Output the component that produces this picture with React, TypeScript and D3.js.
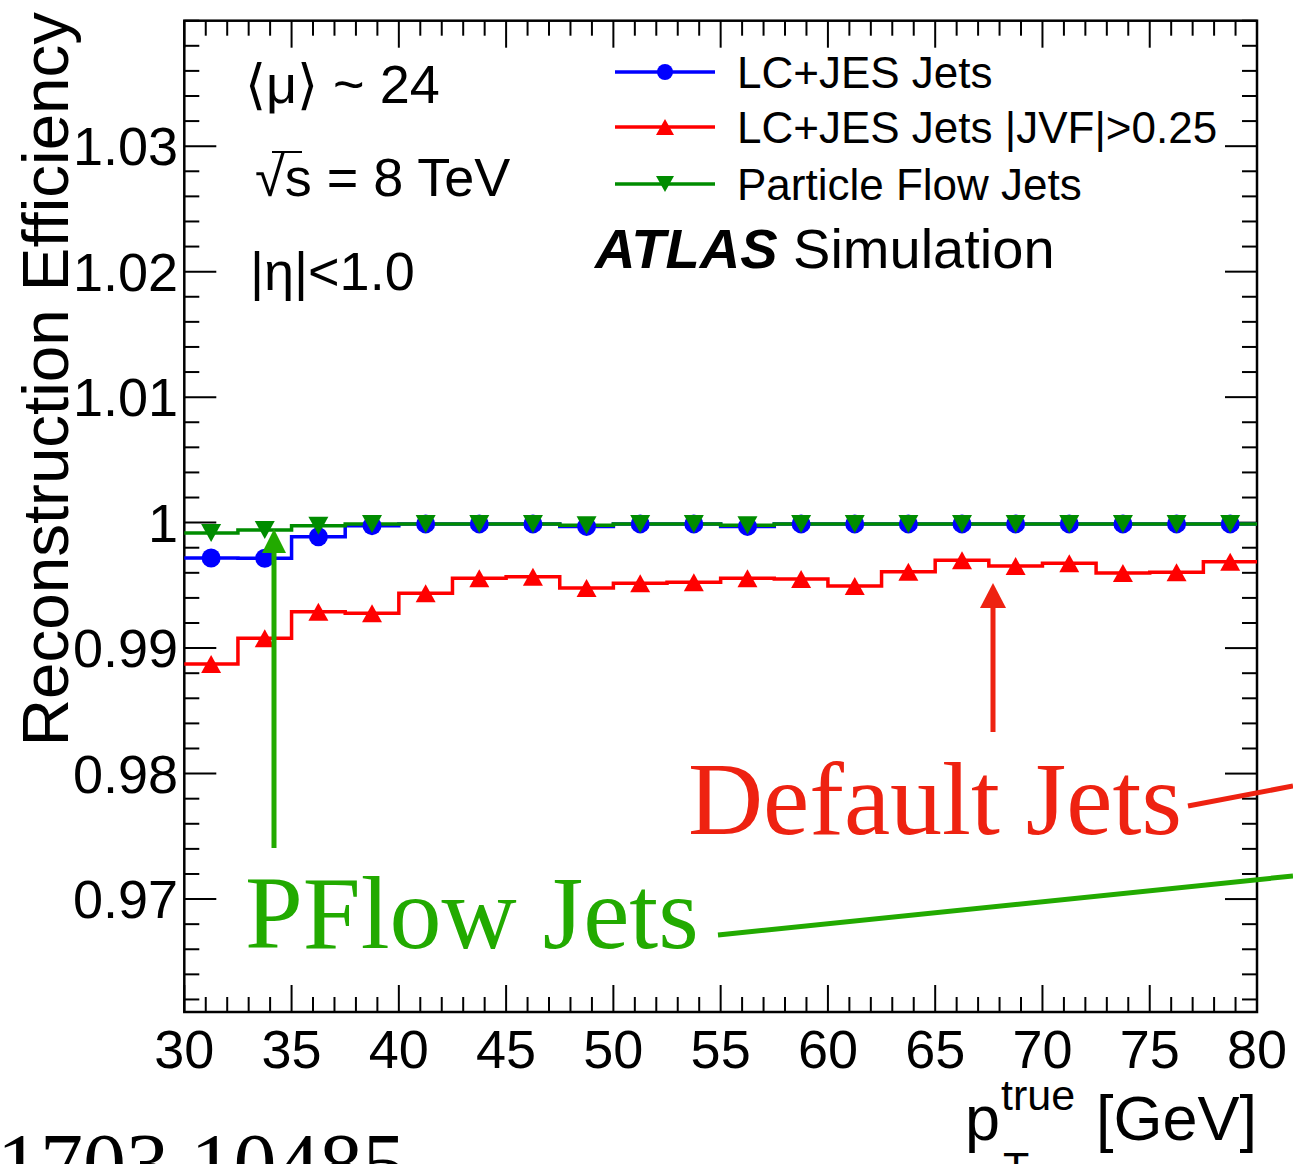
import React, { useEffect } from "react";
import * as d3 from "d3";

const binLow = [30, 32.5, 35, 37.5, 40, 42.5, 45, 47.5, 50, 52.5, 55, 57.5, 60, 62.5, 65, 67.5, 70, 72.5, 75, 77.5];
const binWidth = 2.5;
const lcJes = [0.99718, 0.99716, 0.99888, 0.99976, 0.9999, 0.9999, 0.9999, 0.9997, 0.9999, 0.9999, 0.9997, 0.9999, 0.9999, 0.9999, 0.9999, 0.9999, 0.9999, 0.9999, 0.9999, 0.9999];
const lcJesJvf = [0.98873, 0.99078, 0.9929, 0.99277, 0.99437, 0.99556, 0.99569, 0.99479, 0.99516, 0.99524, 0.99556, 0.99551, 0.99495, 0.99609, 0.997, 0.99654, 0.99676, 0.99599, 0.99604, 0.99689];
const pflow = [0.99918, 0.99942, 0.99976, 0.9999, 0.9999, 0.9999, 0.9999, 0.9998, 0.9999, 0.9999, 0.9998, 0.9999, 0.9999, 0.9999, 0.9999, 0.9999, 0.9999, 0.9999, 0.9999, 0.9999];

const xTicks = [30, 35, 40, 45, 50, 55, 60, 65, 70, 75, 80];
const yTicks = [0.97, 0.98, 0.99, 1.0, 1.01, 1.02, 1.03];
const yTickLabels = ["0.97", "0.98", "0.99", "1", "1.01", "1.02", "1.03"];

const legendLabels = ["LC+JES Jets", "LC+JES Jets |JVF|>0.25", "Particle Flow Jets"];

const W = 1293;
const H = 1164;
const L = 184.3;
const R = 1257;
const T = 20.7;
const B = 1012;

const SANS = "'Liberation Sans', Arial, Helvetica, sans-serif";
const SERIF = "'Liberation Serif', 'Times New Roman', serif";

const x = d3.scaleLinear().domain([30, 80]).range([L, R]);
const y = d3.scaleLinear().domain([0.961, 1.04]).range([B, T]);

function stepPath(vals: number[]) {
  const pts: [number, number][] = vals.map((v, i) => [binLow[i], v]);
  pts.push([binLow[binLow.length - 1] + binWidth, vals[vals.length - 1]]);
  return d3
    .line<[number, number]>()
    .x((d) => x(d[0]))
    .y((d) => y(d[1]))
    .curve(d3.curveStepAfter)(pts) as string;
}

function tri(cx: number, cy: number, s: number, up: boolean) {
  const h = s * 0.9;
  if (up) return `M${cx},${cy - h / 2}L${cx + s / 2},${cy + h / 2}L${cx - s / 2},${cy + h / 2}Z`;
  return `M${cx},${cy + h / 2}L${cx + s / 2},${cy - h / 2}L${cx - s / 2},${cy - h / 2}Z`;
}

const BLUE = "#0000ff";
const RED = "#ff0000";
const GREEN = "#008c00";
const ANN_RED = "#ee2211";
const ANN_GREEN = "#22aa00";

export default function App() {
  useEffect(() => {
    document.body.style.margin = "0";
  }, []);

  const centers = binLow.map((b) => b + binWidth / 2);

  const xMinor: number[] = d3.range(30, 81, 1);
  const yMinor: number[] = d3.range(0, 40).map((i) => +(0.962 + i * 0.002).toFixed(3)).filter((v) => v <= 1.04);

  return (
    <svg width={W} height={H} style={{ display: "block", background: "#fff" }} fontFamily={SANS}>
      <rect x={0} y={0} width={W} height={H} fill="#fff" />

      {/* ticks */}
      <g stroke="#000" strokeWidth={2}>
        {xMinor.map((v) => {
          const major = xTicks.includes(v);
          const len = major ? 27 : 15;
          return (
            <g key={"xt" + v}>
              <line x1={x(v)} x2={x(v)} y1={B} y2={B - len} />
              <line x1={x(v)} x2={x(v)} y1={T} y2={T + len} />
            </g>
          );
        })}
        {yMinor.map((v) => {
          const major = yTicks.some((t) => Math.abs(t - v) < 1e-6);
          const len = major ? 32 : 15;
          return (
            <g key={"yt" + v}>
              <line x1={L} x2={L + len} y1={y(v)} y2={y(v)} />
              <line x1={R} x2={R - len} y1={y(v)} y2={y(v)} />
            </g>
          );
        })}
      </g>
      <rect x={L} y={T} width={R - L} height={B - T} fill="none" stroke="#000" strokeWidth={2.5} />

      {/* tick labels */}
      <g fontSize={54} fill="#000">
        {xTicks.map((v) => (
          <text key={"xl" + v} x={x(v)} y={1068} textAnchor="middle">
            {v}
          </text>
        ))}
        {yTicks.map((v, i) => (
          <text key={"yl" + v} x={178} y={y(v) + 19} textAnchor="end">
            {yTickLabels[i]}
          </text>
        ))}
      </g>

      {/* axis titles */}
      <text transform="translate(68,12) rotate(-90)" textAnchor="end" fontSize={65.5} fill="#000">
        Reconstruction Efficiency
      </text>
      <text x={965} y={1140} fontSize={63} fill="#000">p</text>
      <text x={1001} y={1110} fontSize={43} fill="#000">true</text>
      <text x={1003} y={1182} fontSize={43} fill="#000">T</text>
      <text x={1257} y={1140} fontSize={63} textAnchor="end" fill="#000">[GeV]</text>

      {/* series lines */}
      <path d={stepPath(lcJes)} fill="none" stroke={BLUE} strokeWidth={3.5} />
      <path d={stepPath(lcJesJvf)} fill="none" stroke={RED} strokeWidth={3.5} />
      <path d={stepPath(pflow)} fill="none" stroke={GREEN} strokeWidth={3.5} />

      {/* markers */}
      {lcJes.map((v, i) => (
        <circle key={"b" + i} cx={x(centers[i])} cy={y(v)} r={9.5} fill={BLUE} />
      ))}
      {lcJesJvf.map((v, i) => (
        <path key={"r" + i} d={tri(x(centers[i]), y(v), 20, true)} fill={RED} />
      ))}
      {pflow.map((v, i) => (
        <path key={"g" + i} d={tri(x(centers[i]), y(v), 20, false)} fill={GREEN} />
      ))}

      {/* legend */}
      {[BLUE, RED, GREEN].map((c, i) => {
        const ly = [72, 127, 184][i];
        return (
          <g key={"lg" + i}>
            <line x1={615} x2={715} y1={ly} y2={ly} stroke={c} strokeWidth={3.5} />
            {i === 0 && <circle cx={665} cy={ly} r={8} fill={c} />}
            {i === 1 && <path d={tri(665, ly, 18, true)} fill={c} />}
            {i === 2 && <path d={tri(665, ly, 18, false)} fill={c} />}
            <text x={737} y={ly + 16} fontSize={44} fill="#000">
              {legendLabels[i]}
            </text>
          </g>
        );
      })}
      <text x={595} y={268} fontSize={56} fill="#000">
        <tspan fontWeight="bold" fontStyle="italic">ATLAS</tspan>
        <tspan> Simulation</tspan>
      </text>

      {/* info text */}
      <text x={245} y={103} fontSize={54} fill="#000">⟨μ⟩ ~ 24</text>
      <text x={255} y={196} fontSize={54} fill="#000">√s = 8 TeV</text>
      <line x1={272} x2={302} y1={152} y2={152} stroke="#000" strokeWidth={2} />
      <text x={250} y={290} fontSize={54} fill="#000">|η|&lt;1.0</text>

      {/* annotations */}
      <line x1={993} x2={993} y1={732} y2={600} stroke={ANN_RED} strokeWidth={5} />
      <path d="M993,583L1006,608L980,608Z" fill={ANN_RED} />
      <text x={688} y={834} fontSize={104} fontFamily={SERIF} fill={ANN_RED}>Default Jets</text>
      <line x1={1188} x2={1293} y1={806} y2={786} stroke={ANN_RED} strokeWidth={5} />

      <line x1={274} x2={274} y1={848} y2={545} stroke={ANN_GREEN} strokeWidth={5} />
      <path d="M274,529L286,553L262,553Z" fill={ANN_GREEN} />
      <text x={245} y={948} fontSize={104} fontFamily={SERIF} fill={ANN_GREEN}>PFlow Jets</text>
      <line x1={718} x2={1293} y1={935} y2={876} stroke={ANN_GREEN} strokeWidth={5} />

      <text x={-3} y={1193} fontSize={86} fontFamily={SERIF} fill="#000">1703.10485</text>
    </svg>
  );
}
